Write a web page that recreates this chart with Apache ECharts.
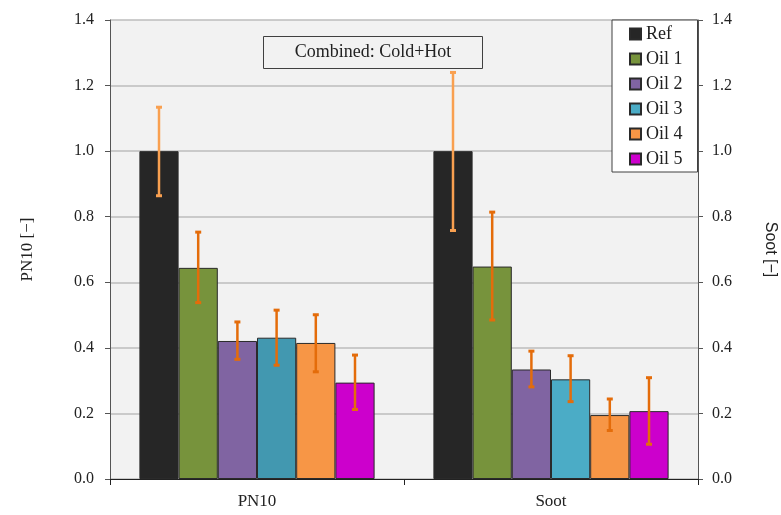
<!DOCTYPE html>
<html>
<head>
<meta charset="utf-8">
<script src="https://cdn.jsdelivr.net/npm/echarts@6/dist/echarts.min.js"></script>
<style>
  html, body { margin: 0; padding: 0; background: #fff; }
  #chart { width: 781px; height: 515px; }
</style>
</head>
<body>
<div id="chart"></div>
<script>
// categories and series
const categories = ['PN10', 'Soot']
const seriesNames = ['Ref', 'Oil 1', 'Oil 2', 'Oil 3', 'Oil 4', 'Oil 5']
const seriesColors = ['#262626', '#77933C', '#8064A2', '#4BACC6', '#F79646', '#CC00CC']

// normalised values, [PN10, Soot]
const refValues = [1.0, 1.0]
const oil1Values = [0.644, 0.648]
const oil2Values = [0.421, 0.334]
const oil3Values = [0.431, 0.304]
const oil4Values = [0.415, 0.195]
const oil5Values = [0.294, 0.207]

// error bars [low, high], [PN10, Soot]
const refErr = [[0.864, 1.134], [0.758, 1.240]]
const oil1Err = [[0.538, 0.753], [0.485, 0.814]]
const oil2Err = [[0.365, 0.479], [0.281, 0.390]]
const oil3Err = [[0.347, 0.515], [0.236, 0.376]]
const oil4Err = [[0.327, 0.501], [0.148, 0.244]]
const oil5Err = [[0.212, 0.378], [0.106, 0.309]]

const allValues = [refValues, oil1Values, oil2Values, oil3Values, oil4Values, oil5Values]
const allErr = [refErr, oil1Err, oil2Err, oil3Err, oil4Err, oil5Err]

const chart = echarts.init(document.getElementById('chart'))

const serif = 'Liberation Serif'
const catGap = 0.2

let barSeries = allValues.map((vals, i) => {
  return {
    name: seriesNames[i],
    type: 'bar',
    data: vals.map((v, c) => {
      // the PN10 Oil 3 bar is a bit darker in the picture
      if (i === 3 && c === 0) return { value: v, itemStyle: { color: '#4298B0' } }
      return v
    }),
    barGap: 0,
    barCategoryGap: catGap * 100 + '%',
    itemStyle: { color: seriesColors[i], borderColor: '#2a2a2a', borderWidth: 1 },
    emphasis: { disabled: true }
  }
})

let errData = []
allErr.forEach((errs, s) => {
  errs.forEach((e, c) => errData.push([c, s, e[0], e[1]]))
})

const errSeries = {
  type: 'custom',
  silent: true,
  z: 5,
  data: errData,
  encode: { x: 0, y: [2, 3] },
  renderItem(params, api) {
    const c = api.value(0)
    const s = api.value(1)
    const band = api.size([1, 0])[0]
    const barW = band * (1 - catGap) / seriesNames.length
    const x = api.coord([c, 0])[0] - band * (1 - catGap) / 2 + barW * (s + 0.5)
    const lo = api.coord([c, api.value(2)])[1]
    const hi = api.coord([c, api.value(3)])[1]
    const color = s === 0 ? '#F9A050' : '#E46C0A'
    const style = { stroke: color, lineWidth: 2.5 }
    return {
      type: 'group',
      children: [
        { type: 'line', shape: { x1: x, y1: lo, x2: x, y2: hi }, style },
        { type: 'line', shape: { x1: x - 3, y1: lo, x2: x + 3, y2: lo }, style: { stroke: color, lineWidth: 3 } },
        { type: 'line', shape: { x1: x - 3, y1: hi, x2: x + 3, y2: hi }, style: { stroke: color, lineWidth: 3 } }
      ]
    }
  }
}

chart.setOption({
  animation: false,
  backgroundColor: '#ffffff',
  textStyle: { fontFamily: serif },
  grid: {
    left: 110,
    right: 83,
    top: 20,
    bottom: 36,
    outerBoundsMode: 'none',
    containLabel: false,
    show: true,
    backgroundColor: '#F2F2F2',
    borderWidth: 0
  },
  legend: {
    data: seriesNames,
    orient: 'vertical',
    left: 612,
    top: 20,
    padding: [5, 15, 4, 17],
    itemGap: 7,
    itemWidth: 11,
    itemHeight: 11,
    itemTextGap: 4,
    icon: 'rect',
    backgroundColor: '#ffffff',
    borderColor: '#404040',
    borderWidth: 1,
    selectedMode: false,
    textStyle: { fontFamily: serif, fontSize: 18, color: '#222', lineHeight: 18 }
  },
  graphic: [
    {
      type: 'group',
      left: 263,
      top: 36,
      children: [
        { type: 'rect', shape: { x: 0, y: 0, width: 219, height: 32 }, style: { fill: '#F2F2F2', stroke: '#404040', lineWidth: 1 } },
        { type: 'text', x: 109.5, y: 16, style: { text: 'Combined: Cold+Hot', font: '18px "Liberation Serif"', fill: '#222', align: 'center', verticalAlign: 'middle' } }
      ]
    }
  ],
  xAxis: {
    type: 'category',
    data: categories,
    axisLine: { lineStyle: { color: '#222', width: 1 } },
    axisTick: { show: true, length: 6, lineStyle: { color: '#222' } },
    axisLabel: { fontFamily: serif, fontSize: 17, color: '#222', margin: 14 },
    splitLine: { show: false }
  },
  yAxis: [
    {
      type: 'value',
      min: 0,
      max: 1.4,
      interval: 0.2,
      name: 'PN10 [\u2212]',
      nameLocation: 'middle',
      nameGap: 74,
      nameTextStyle: { fontFamily: serif, fontSize: 17, color: '#222' },
      axisLine: { show: true, lineStyle: { color: '#555' } },
      axisTick: { show: true, length: 5, lineStyle: { color: '#555' } },
      axisLabel: { fontFamily: serif, fontSize: 16, color: '#222', margin: 16, formatter: v => v.toFixed(1) },
      splitLine: { lineStyle: { color: '#BDBDBD', width: 1.5 } }
    },
    {
      type: 'value',
      min: 0,
      max: 1.4,
      interval: 0.2,
      position: 'right',
      name: 'Soot [\u2212]',
      nameLocation: 'middle',
      nameGap: 64,
      nameRotate: -90,
      nameTextStyle: { fontFamily: 'Liberation Sans', fontSize: 16, color: '#222' },
      axisLine: { show: true, lineStyle: { color: '#555' } },
      axisTick: { show: true, length: 5, lineStyle: { color: '#555' } },
      axisLabel: { fontFamily: serif, fontSize: 16, color: '#222', margin: 14, formatter: v => v.toFixed(1) },
      splitLine: { show: false }
    }
  ],
  series: [...barSeries, errSeries]
})
</script>
</body>
</html>
